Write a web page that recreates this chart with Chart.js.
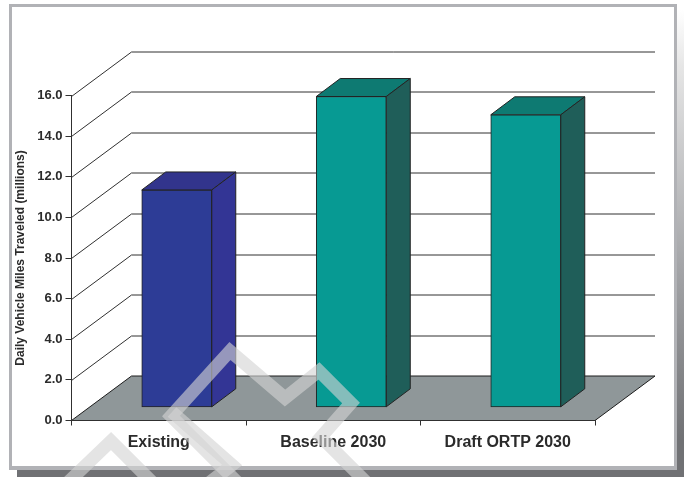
<!DOCTYPE html>
<html>
<head>
<meta charset="utf-8">
<title>Daily Vehicle Miles Traveled</title>
<script src="https://cdnjs.cloudflare.com/ajax/libs/Chart.js/4.4.0/chart.umd.min.js"></script>
<style>
  html, body { margin: 0; padding: 0; background: #fff; overflow: hidden; }
  #shadow { position: absolute; left: 17px; top: 10px; width: 667px; height: 467px;
    background: linear-gradient(to bottom, #fff 0, #e6e6e6 12%, #a4a5a8 55%, #707174 92%); }
  #frame { position: absolute; left: 9px; top: 4px; width: 662px; height: 459px;
    background: #fff; border: 3px solid #b1b2b6; border-bottom-width: 4px; }
  canvas { position: absolute; left: 0; top: 0; }
</style>
</head>
<body>
<div id="shadow"></div>
<div id="frame"></div>
<canvas id="chart" width="689" height="477"></canvas>
<script>
const categories = ["Existing", "Baseline 2030", "Draft ORTP 2030"]
const vmtMillions = [10.7, 15.3, 14.4]
const yTicks = [0, 2, 4, 6, 8, 10, 12, 14, 16]

const frontColors = ["#2d3c96", "#079a93", "#079a93"]
const sideColors = ["#333595", "#1f5e59", "#1f5e59"]
const topColors = ["#32348c", "#0e7a72", "#0e7a72"]

// depth of the fake 3d box, in pixels
const WALL_DX = 60, WALL_DY = 44.5
const BAR_DX = 24, BAR_DY = 18
const BAR_SHIFT_X = 18, BAR_SHIFT_Y = 13.2
const EDGE = "#232323"

// chevron watermark that lies over the whole slide
const watermark = [
  [[241, 486], [171, 416], [230, 351], [285, 398], [319, 371], [351, 403], [321, 437], [368, 484]],
  [[172, 412], [232, 465], [200, 490]],
  [[60, 490], [111, 441], [160, 490]]
]

function poly(ctx, pts, fill, stroke) {
  ctx.beginPath()
  pts.forEach((p, i) => i ? ctx.lineTo(p[0], p[1]) : ctx.moveTo(p[0], p[1]))
  ctx.closePath()
  ctx.fillStyle = fill
  ctx.fill()
  ctx.lineWidth = 1
  ctx.strokeStyle = stroke
  ctx.stroke()
}

const box3d = {
  id: "box3d",
  beforeDraw(chart) {
    const ctx = chart.ctx, y = chart.scales.y, x = chart.scales.x
    const y0 = y.getPixelForValue(0)
    ctx.save()
    poly(ctx, [[x.left, y0], [x.left + WALL_DX, y0 - WALL_DY], [x.right + WALL_DX, y0 - WALL_DY], [x.right, y0]], "#8f9799", "#1c1c1c")
    ctx.strokeStyle = "#303030"
    ctx.lineWidth = 1
    yTicks.slice(1).forEach(v => {
      const py = Math.round(y.getPixelForValue(v)) + 0.5
      ctx.beginPath()
      ctx.moveTo(x.left, py)
      ctx.lineTo(x.left + WALL_DX, py - WALL_DY)
      ctx.lineTo(x.right + WALL_DX, py - WALL_DY)
      ctx.stroke()
    })
    ctx.restore()
  },
  beforeDatasetsDraw(chart) {
    const ctx = chart.ctx
    ctx.save()
    ctx.translate(BAR_SHIFT_X, -BAR_SHIFT_Y)
    chart.getDatasetMeta(0).data.forEach((bar, i) => {
      const l = bar.x - bar.width / 2, r = bar.x + bar.width / 2
      poly(ctx, [[l, bar.y], [l + BAR_DX, bar.y - BAR_DY], [r + BAR_DX, bar.y - BAR_DY], [r, bar.y]], topColors[i], EDGE)
      poly(ctx, [[r, bar.y], [r + BAR_DX, bar.y - BAR_DY], [r + BAR_DX, bar.base - BAR_DY], [r, bar.base]], sideColors[i], EDGE)
    })
  },
  afterDatasetsDraw(chart) {
    chart.ctx.restore()
  },
  afterDraw(chart) {
    const ctx = chart.ctx
    ctx.save()
    ctx.strokeStyle = "rgba(212,212,212,0.62)"
    ctx.lineWidth = 13
    ctx.lineJoin = "miter"
    watermark.forEach(line => {
      ctx.beginPath()
      line.forEach((p, i) => i ? ctx.lineTo(p[0], p[1]) : ctx.moveTo(p[0], p[1]))
      ctx.stroke()
    })
    ctx.restore()
  }
}

new Chart(document.getElementById("chart"), {
  type: "bar",
  data: {
    labels: categories,
    datasets: [{
      data: vmtMillions,
      backgroundColor: frontColors,
      borderColor: EDGE,
      borderWidth: 1,
      borderSkipped: false,
      barThickness: 70,
      clip: false
    }]
  },
  options: {
    responsive: false,
    animation: false,
    layout: { padding: { top: 95.5, right: 94, left: 0, bottom: 0 } },
    plugins: { legend: { display: false }, tooltip: { enabled: false } },
    scales: {
      x: {
        afterFit(scale) { scale.height = 56.5 },
        grid: { drawOnChartArea: false, color: "#303030", tickLength: 5 },
        border: { color: "#303030", width: 1 },
        ticks: { color: "#2b2b2b", font: { family: "'Liberation Sans'", size: 16, weight: "bold" }, padding: 7, maxRotation: 0, autoSkip: false }
      },
      y: {
        min: 0,
        max: 16,
        afterFit(scale) { scale.width = 71.5 },
        afterBuildTicks(scale) { scale.ticks = yTicks.map(v => ({ value: v })) },
        grid: { drawOnChartArea: false, color: "#303030", tickLength: 6 },
        border: { color: "#303030", width: 1 },
        ticks: {
          color: "#2b2b2b",
          font: { family: "'Liberation Sans'", size: 13, weight: "bold" },
          padding: 3,
          callback: v => v.toFixed(1)
        },
        title: {
          display: true,
          text: "Daily Vehicle Miles Traveled (millions)",
          color: "#2b2b2b",
          font: { family: "'Liberation Sans'", size: 12, weight: "bold" },
          padding: { top: 13, bottom: 0 }
        }
      }
    }
  },
  plugins: [box3d]
})
</script>
</body>
</html>
